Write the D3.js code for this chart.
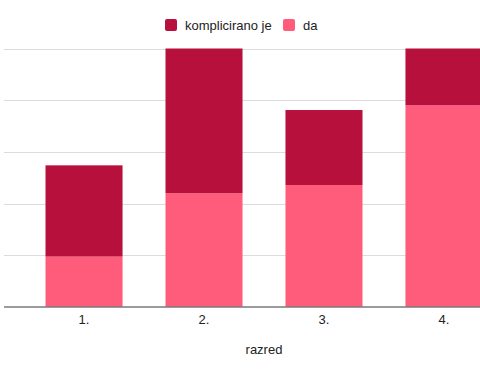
<!DOCTYPE html>
<html lang="en">
<head>
    <meta charset="UTF-8">
    <title>razred</title>
    <script src="https://d3js.org/d3.v7.min.js"></script>
    <style>
        body { margin: 0; background: #fff; }
        svg { display: block; font-family: "Liberation Sans", Arial, sans-serif; }
    </style>
</head>
<body>
    <svg></svg>
    <script>
        const width = 480;
        const height = 374;

        // data
        const categories = ["1.", "2.", "3.", "4."];
        const da = [19.5, 44, 47.2, 78];
        const komplicirano = [35.3, 56, 29, 22];
        const seriesNames = ["komplicirano je", "da"];
        const colors = { "da": "#ff5c7b", "komplicirano je": "#b8103c" };
        const yTicks = [0, 20, 40, 60, 80, 100];

        const svg = d3.select("svg")
            .attr("width", width)
            .attr("height", height);

        const plotLeft = 4, plotRight = 524, plotTop = 48.5, plotBottom = 307;

        const x = d3.scaleBand()
            .domain(categories)
            .range([plotLeft, plotRight])
            .paddingInner(0.358)
            .paddingOuter(0.346);

        const y = d3.scaleLinear()
            .domain([0, 100])
            .range([plotBottom, plotTop]);

        // gridlines
        svg.append("g")
            .selectAll("line")
            .data(yTicks.slice(1))
            .enter().append("line")
            .attr("x1", plotLeft)
            .attr("x2", plotRight)
            .attr("y1", d => Math.round(y(d)) + 0.5)
            .attr("y2", d => Math.round(y(d)) + 0.5)
            .attr("stroke", "#dcdcdc")
            .attr("stroke-width", 1);

        const rows = categories.map((c, i) => ({ cat: c, "da": da[i], "komplicirano je": komplicirano[i] }));
        const stacked = d3.stack().keys(["da", "komplicirano je"])(rows);

        svg.append("g")
            .selectAll("g")
            .data(stacked)
            .enter().append("g")
            .attr("fill", d => colors[d.key])
            .selectAll("rect")
            .data(d => d)
            .enter().append("rect")
            .attr("x", d => x(d.data.cat))
            .attr("width", x.bandwidth())
            .attr("y", d => y(d[1]))
            .attr("height", d => y(d[0]) - y(d[1]));

        // baseline
        svg.append("line")
            .attr("x1", plotLeft)
            .attr("x2", plotRight)
            .attr("y1", plotBottom)
            .attr("y2", plotBottom)
            .attr("stroke", "#7a7a7a")
            .attr("stroke-width", 1.5);

        // x axis labels
        const xAxis = svg.append("g")
            .attr("transform", `translate(0,${plotBottom})`)
            .call(d3.axisBottom(x).tickSize(0).tickPadding(8));
        xAxis.select(".domain").remove();
        xAxis.selectAll("text")
            .attr("font-family", "Liberation Sans, Arial, sans-serif")
            .attr("font-size", 13)
            .attr("fill", "#222");

        svg.append("text")
            .attr("x", (plotLeft + plotRight) / 2)
            .attr("y", 354)
            .attr("text-anchor", "middle")
            .attr("font-size", 13)
            .attr("fill", "#222")
            .text("razred");

        // legend
        const legendX = [165, 283];
        const legend = svg.append("g")
            .selectAll("g")
            .data(seriesNames)
            .enter().append("g")
            .attr("transform", (d, i) => `translate(${legendX[i]},19)`);
        legend.append("rect")
            .attr("width", 12)
            .attr("height", 12)
            .attr("rx", 2)
            .attr("fill", d => colors[d]);
        legend.append("text")
            .attr("x", 20)
            .attr("y", 10.5)
            .attr("font-size", 13)
            .attr("fill", "#222")
            .text(d => d);
    </script>
</body>
</html>
